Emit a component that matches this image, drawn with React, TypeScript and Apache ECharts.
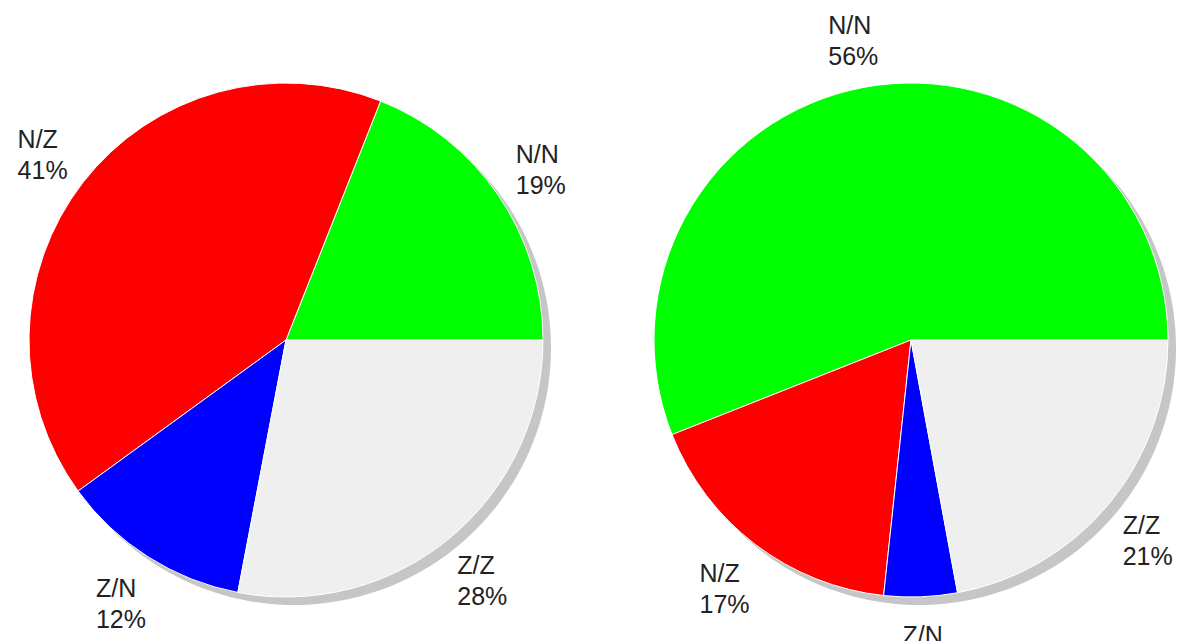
import React, { useEffect, useRef } from "react";
import * as echarts from "echarts";

const categories = ["N/N", "N/Z", "Z/N", "Z/Z"];
const sliceColors = ["#00ff00", "#ff0000", "#0000ff", "#efefef"];
const leftValues = [19, 41, 12, 28];
const leftPercents = ["19%", "41%", "12%", "28%"];
const rightValues = [56, 17.3, 4.6, 22.1];
const rightPercents = ["56%", "17%", "5%", "21%"];

const R = 257;
const LEFT_C = [286, 340];
const RIGHT_C = [911, 340];

function buildSeries(values: number[], percents: string[], c: number[]) {
  const shadow = {
    type: "pie",
    silent: true,
    center: [c[0] + 8, c[1] + 8],
    radius: R,
    startAngle: 0,
    label: { show: false },
    labelLine: { show: false },
    itemStyle: { color: "#c6c6c6", borderWidth: 0 },
    data: [{ value: 1, name: "shadow" }],
    z: 1,
  };
  const main = {
    type: "pie",
    silent: true,
    center: c,
    radius: R,
    startAngle: 0,
    clockwise: false,
    label: { show: false },
    labelLine: { show: false },
    itemStyle: { borderColor: "#ffffff", borderWidth: 1 },
    data: categories.map((name, i) => ({
      name,
      value: values[i],
      itemStyle: { color: sliceColors[i] },
    })),
    z: 2,
  };
  const labels = {
    type: "pie",
    silent: true,
    center: c,
    radius: [294, 316],
    startAngle: 0,
    clockwise: false,
    itemStyle: { color: "rgba(0,0,0,0)", borderWidth: 0 },
    labelLine: { show: false },
    label: {
      show: true,
      position: "inside",
      offset: [0, 3],
      formatter: (p: any) => `{t|${p.name}}\n{t|${percents[p.dataIndex]}}`,
      rich: {
        t: {
          align: "left",
          fontFamily: "Liberation Sans, Arial, sans-serif",
          fontSize: 25,
          lineHeight: 31,
          color: "#222222",
        },
      },
    },
    data: categories.map((name, i) => ({ name, value: values[i] })),
    z: 3,
  };
  return [shadow, main, labels];
}

export default function App() {
  const ref = useRef<HTMLDivElement>(null);
  useEffect(() => {
    if (!ref.current) return;
    const chart = echarts.init(ref.current, null, { renderer: "svg" });
    chart.setOption({
      animation: false,
      backgroundColor: "#ffffff",
      series: [
        ...buildSeries(leftValues, leftPercents, LEFT_C),
        ...buildSeries(rightValues, rightPercents, RIGHT_C),
      ],
    });
    return () => chart.dispose();
  }, []);
  return (
    <div
      ref={ref}
      style={{ position: "fixed", left: 0, top: 0, width: 1179, height: 641 }}
    />
  );
}
